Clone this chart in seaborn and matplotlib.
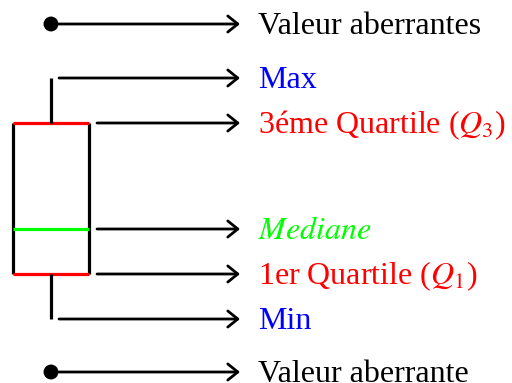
import matplotlib
matplotlib.use("Agg")
import matplotlib.pyplot as plt
import seaborn as sns
import pandas as pd

# Valeurs du schéma (échelle verticale arbitraire, 0 en bas)
aberrantes = [359, 11]
maximum = 305
q3 = 260
mediane = 154
q1 = 109
minimum = 64

etiquettes = ["Valeur aberrantes", "Max", r"3éme Quartile ($Q_3$)",
              r"$Mediane$", r"1er Quartile ($Q_1$)", "Min", "Valeur aberrante"]
valeurs = [aberrantes[0], maximum, q3, mediane, q1, minimum, aberrantes[1]]
couleurs = ["black", "blue", "red", "#00ff00", "red", "blue", "black"]

# Style
sns.set_theme(style="white")
plt.rcParams['font.family'] = ['Liberation Serif', 'DejaVu Serif']
plt.rcParams['mathtext.fontset'] = 'stix'

fig = plt.figure(figsize=(5.12, 3.83), dpi=100)
ax = fig.add_axes([0, 0, 1, 1])

centre = 51
gauche, droite = 13, 89
lw = 2.3

# Boîte
ax.plot([gauche, gauche], [q1, q3], color='black', lw=lw, solid_capstyle='butt')
ax.plot([droite, droite], [q1, q3], color='black', lw=lw, solid_capstyle='butt')
ax.plot([gauche, droite], [q3, q3], color='red', lw=lw, solid_capstyle='butt')
ax.plot([gauche, droite], [q1, q1], color='red', lw=lw, solid_capstyle='butt')
ax.plot([gauche, droite], [mediane, mediane], color='#00ff00', lw=lw, solid_capstyle='butt')

# Moustaches
ax.plot([centre, centre], [q3, maximum], color='black', lw=lw, solid_capstyle='butt')
ax.plot([centre, centre], [minimum, q1], color='black', lw=lw, solid_capstyle='butt')

# Valeurs aberrantes
df_ab = pd.DataFrame({'x': [centre] * len(aberrantes), 'y': aberrantes})
sns.scatterplot(data=df_ab, x='x', y='y', ax=ax, color='black', s=115,
                edgecolor='none', legend=False)
ax.set_xlim(0, 512)
ax.set_ylim(0, 383)
ax.axis('off')

# Flèches + textes
departs = [59, 59, 97, 97, 97, 59, 59]
for v, txt, c, x0 in zip(valeurs, etiquettes, couleurs, departs):
    ax.annotate('', xy=(240, v), xytext=(x0, v),
                arrowprops=dict(arrowstyle='->,head_length=0.36,head_width=0.29',
                                lw=2.0, color='black', shrinkA=0, shrinkB=0,
                                mutation_scale=20))
    ax.text(258, v - 10, txt, color=c, fontsize=23, va='baseline', ha='left')

plt.savefig('out.png', dpi=100)
